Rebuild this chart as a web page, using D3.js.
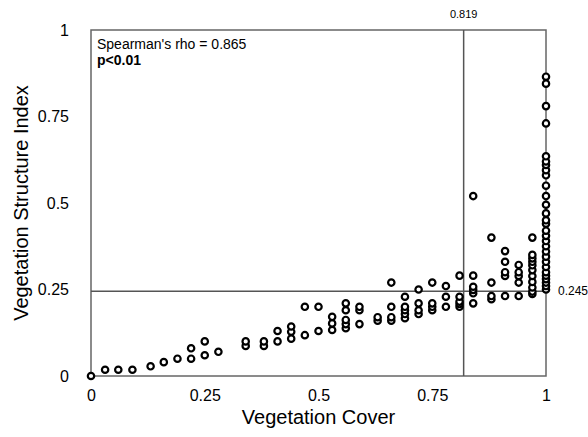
<!DOCTYPE html>
<html>
<head>
<meta charset="utf-8">
<script src="https://cdn.jsdelivr.net/npm/d3@7"></script>
<style>
  body { margin: 0; background: #fff; }
  svg { display: block; font-family: "Liberation Sans", Arial, sans-serif; }
</style>
</head>
<body>
<div id="chart"></div>
<script>
// vegetation cover (x) and structure index (y)
const vegCover = [
  0, 0.031, 0.06, 0.091, 0.131, 0.16, 0.19, 0.22, 0.22, 0.25, 0.25, 0.28,
  0.34, 0.34, 0.38, 0.38, 0.41, 0.41, 0.44, 0.44, 0.44, 0.47, 0.47, 0.50, 0.50,
  0.53, 0.53, 0.53, 0.56, 0.56, 0.56, 0.56, 0.56, 0.59, 0.59, 0.59, 0.63, 0.63,
  0.66, 0.66, 0.66, 0.66, 0.69, 0.69, 0.69, 0.69, 0.69, 0.72, 0.72, 0.72, 0.72,
  0.75, 0.75, 0.75, 0.75, 0.78, 0.78, 0.78, 0.81, 0.81, 0.81, 0.81, 0.81,
  0.84, 0.84, 0.84, 0.84, 0.84, 0.84, 0.88, 0.88, 0.88, 0.88,
  0.91, 0.91, 0.91, 0.91, 0.91, 0.94, 0.94, 0.94, 0.94, 0.94,
  0.97, 0.97, 0.97, 0.97, 0.97, 0.97, 0.97, 0.97, 0.97, 0.97, 0.97,
  1, 1, 1, 1, 1, 1, 1, 1, 1, 1, 1, 1, 1, 1, 1, 1, 1, 1, 1, 1, 1, 1, 1, 1, 1, 1, 1, 1, 1
];
const vegStructure = [
  0, 0.018, 0.018, 0.018, 0.028, 0.04, 0.05, 0.05, 0.08, 0.06, 0.10, 0.07,
  0.087, 0.10, 0.087, 0.10, 0.10, 0.13, 0.108, 0.128, 0.143, 0.118, 0.20, 0.13, 0.20,
  0.133, 0.152, 0.171, 0.138, 0.15, 0.162, 0.19, 0.21, 0.15, 0.19, 0.20, 0.16, 0.17,
  0.16, 0.17, 0.20, 0.27, 0.167, 0.179, 0.19, 0.20, 0.229, 0.179, 0.19, 0.21, 0.25,
  0.19, 0.20, 0.21, 0.27, 0.20, 0.229, 0.26, 0.20, 0.208, 0.215, 0.229, 0.29,
  0.21, 0.239, 0.249, 0.258, 0.29, 0.52, 0.222, 0.231, 0.27, 0.40,
  0.231, 0.289, 0.30, 0.33, 0.361, 0.231, 0.27, 0.289, 0.30, 0.321,
  0.237, 0.244, 0.256, 0.272, 0.289, 0.306, 0.32, 0.33, 0.34, 0.35, 0.40,
  0.25, 0.26, 0.27, 0.28, 0.29, 0.30, 0.315, 0.33, 0.345, 0.36, 0.375, 0.39, 0.405,
  0.42, 0.44, 0.45, 0.47, 0.495, 0.52, 0.55, 0.58, 0.595, 0.61, 0.62, 0.635, 0.73,
  0.78, 0.845, 0.865
];
const tickValues = [0, 0.25, 0.5, 0.75, 1];
const tickLabels = ["0", "0.25", "0.5", "0.75", "1"];
const cutX = 0.819;
const cutY = 0.245;

const width = 588, height = 437;
const margin = {top: 30, right: 42, bottom: 61, left: 91};

const svg = d3.select("#chart").append("svg")
    .attr("width", width)
    .attr("height", height);

const x = d3.scaleLinear([0, 1], [margin.left, width - margin.right]);
const y = d3.scaleLinear([0, 1], [height - margin.bottom, margin.top]);

const fmt = d => tickLabels[tickValues.indexOf(d)];

svg.append("g")
    .attr("transform", `translate(0,${height - margin.bottom})`)
    .call(d3.axisBottom(x).tickValues(tickValues).tickFormat(fmt).tickSize(0).tickPadding(14))
    .call(g => g.select(".domain").remove())
    .call(g => g.selectAll("text").attr("font-size", 16).attr("fill", "#000")
        .attr("font-family", "Liberation Sans, Arial, sans-serif"));

svg.append("g")
    .attr("transform", `translate(${margin.left},0)`)
    .call(d3.axisLeft(y).tickValues(tickValues).tickFormat(fmt).tickSize(0).tickPadding(22))
    .call(g => g.select(".domain").remove())
    .call(g => g.selectAll("text").attr("font-size", 16).attr("fill", "#000")
        .attr("font-family", "Liberation Sans, Arial, sans-serif"));

// frame
svg.append("rect")
    .attr("x", x(0)).attr("y", y(1))
    .attr("width", x(1) - x(0)).attr("height", y(0) - y(1))
    .attr("fill", "none")
    .attr("stroke", "#666")
    .attr("stroke-width", 1.5);

// cut-off lines
svg.append("line")
    .attr("x1", x(0)).attr("x2", x(1))
    .attr("y1", y(cutY)).attr("y2", y(cutY))
    .attr("stroke", "#555").attr("stroke-width", 1.5);
svg.append("line")
    .attr("x1", x(cutX)).attr("x2", x(cutX))
    .attr("y1", y(1)).attr("y2", y(0))
    .attr("stroke", "#555").attr("stroke-width", 1.5);

svg.append("text")
    .attr("x", x(cutX)).attr("y", 18)
    .attr("text-anchor", "middle")
    .attr("font-size", 11)
    .text(d3.format(".3f")(cutX));
svg.append("text")
    .attr("x", x(1) + 12).attr("y", y(cutY))
    .attr("dy", "0.35em")
    .attr("font-size", 12)
    .text(d3.format(".3f")(cutY));

// points
svg.append("g")
    .selectAll("circle")
    .data(vegCover.map((c, i) => [c, vegStructure[i]]))
    .join("circle")
      .attr("cx", d => x(d[0]))
      .attr("cy", d => y(d[1]))
      .attr("r", 3.2)
      .attr("fill", "#fff")
      .attr("stroke", "#000")
      .attr("stroke-width", 2.2);

svg.append("text")
    .attr("x", x(0) + 6).attr("y", y(1) + 19)
    .attr("font-size", 14)
    .text("Spearman's rho = 0.865");
svg.append("text")
    .attr("x", x(0) + 6).attr("y", y(1) + 35)
    .attr("font-size", 14)
    .attr("font-weight", "bold")
    .text("p<0.01");

// axis titles
svg.append("text")
    .attr("x", (x(0) + x(1)) / 2).attr("y", 424)
    .attr("text-anchor", "middle")
    .attr("font-size", 20)
    .text("Vegetation Cover");
svg.append("text")
    .attr("transform", `translate(28,${(y(0) + y(1)) / 2}) rotate(-90)`)
    .attr("text-anchor", "middle")
    .attr("font-size", 20)
    .text("Vegetation Structure Index");
</script>
</body>
</html>
